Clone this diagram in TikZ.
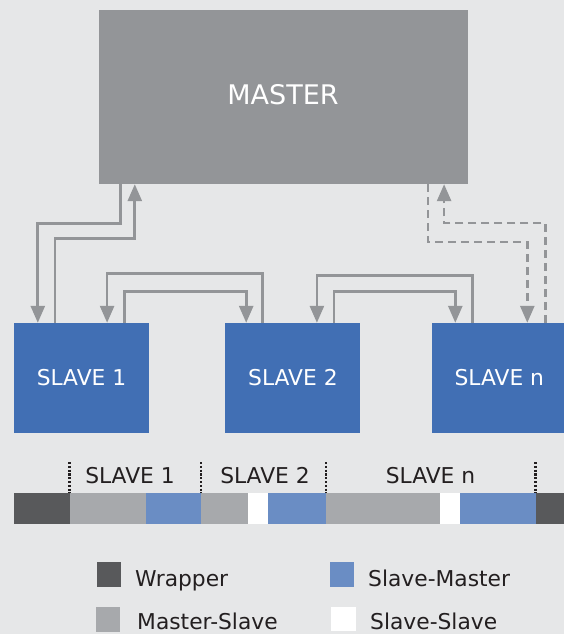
\documentclass[tikz,border=0pt]{standalone}
\usepackage{fontspec}
\setmainfont{DejaVu Sans}
\usetikzlibrary{arrows.meta, positioning}
\definecolor{sfondo}{HTML}{E6E7E8}
\definecolor{grigioM}{HTML}{939598}
\definecolor{bluS}{HTML}{416FB4}
\definecolor{scuro}{HTML}{58595B}
\definecolor{chiaro}{HTML}{A7A9AC}
\definecolor{bluchiaro}{HTML}{6A8DC4}
\definecolor{testo}{HTML}{231F20}
\newcommand{\testoBase}{\fontsize{21.8}{24}\selectfont}
\tikzset{
    slavebox/.style = {rectangle, inner sep = 0pt, minimum width = 135pt, minimum height = 110pt, fill = bluS, text = white, font = \testoBase},
    link/.style = {draw = grigioM, line width = 2.7pt, -{Triangle[width=14pt, length=17pt]}},
    linkdash/.style = {link, dash pattern = on 8pt off 5pt},
    key/.style = {rectangle, inner sep = 0pt, minimum size = 24.5pt},
    keytext/.style = {anchor = base west, inner sep = 0pt, text = testo, font = \testoBase}
}

\begin{document}
\begin{tikzpicture}[x = 1pt, y = -1pt]
    % Sfondo
    \useasboundingbox (0,0) rectangle (564,634);
    \fill[sfondo] (0,0) rectangle (564,634);

    % Master e slave
    \node[rectangle, fill = grigioM, text = white, minimum width = 369pt, minimum height = 174pt,
          text depth = 6pt, font = \fontsize{27}{30}\selectfont] (master) at (283,97) {MASTER};
    \node[slavebox] (s1) at (81.5,378) {SLAVE 1};
    \node[slavebox, right = 76pt of s1] (s2) {SLAVE 2};
    \node[slavebox, right = 71pt of s2] (sn) {SLAVE n};

    % Master <-> slave 1
    \draw[link] ([xshift = 22.5pt]master.south west) -- ++(0,39) -| ([xshift = 24pt]s1.north west);
    \draw[link] ([xshift = 41.3pt]s1.north west) -- ++(0,-84) -| ([xshift = 36.5pt]master.south west);
    % Slave 1 <-> slave 2
    \draw[link] ([xshift = 37.3pt]s2.north west) -- ++(0,-49) -| ([xshift = 93.3pt]s1.north west);
    \draw[link] ([xshift = 111pt]s1.north west) -- ++(0,-31) -| ([xshift = 21pt]s2.north west);
    % Slave 2 <-> slave n
    \draw[link] ([xshift = 40.7pt]sn.north west) -- ++(0,-47.5) -| ([xshift = 91.7pt]s2.north west);
    \draw[link] ([xshift = 108.7pt]s2.north west) -- ++(0,-31) -| ([xshift = 23.7pt]sn.north west);
    % Master <-> slave n
    \draw[linkdash] ([xshift = 329.8pt]master.south west) -- ++(0,57.7) -| ([xshift = 95.7pt]sn.north west);
    \draw[linkdash] ([xshift = 114pt]sn.north west) -- ++(0,-99.7) -| ([xshift = 345.8pt]master.south west);

    % Trama
    \foreach \a/\b/\c in {14/70/scuro, 70/146/chiaro, 146/201/bluchiaro, 201/248/chiaro, 248/268/white,
                          268/326/bluchiaro, 326/440/chiaro, 440/460/white, 460/536/bluchiaro, 536/564/scuro}
        \fill[\c] (\a,493) rectangle (\b,524);
    \foreach \x in {69.5,201,326,535.5}
        \draw[testo, line width = 2.2pt, dash pattern = on 2.1pt off 1.7pt] (\x,462) -- (\x,493);
    \node[text = testo, font = \testoBase] (t1) at (130,476) {SLAVE 1};
    \node[text = testo, font = \testoBase] (t2) at (265,476) {SLAVE 2};
    \node[text = testo, font = \testoBase] (tn) at (430.5,476) {SLAVE n};

    % Legenda
    \node[key, fill = scuro] (kWrap) at (108.8,574.5) {};
    \node[key, fill = chiaro] (kMS) at (108.2,619.5) {};
    \node[key, fill = bluchiaro] (kSM) at (342.2,574.5) {};
    \node[key, fill = white] (kSS) at (343.4,619) {};
    \node[keytext] (lWrap) at (135,586.7) {Wrapper};
    \node[keytext] (lMS) at (137,629.5) {Master-Slave};
    \node[keytext] (lSM) at (368,586) {Slave-Master};
    \node[keytext] (lSS) at (370,629.5) {Slave-Slave};
\end{tikzpicture}
\end{document}
